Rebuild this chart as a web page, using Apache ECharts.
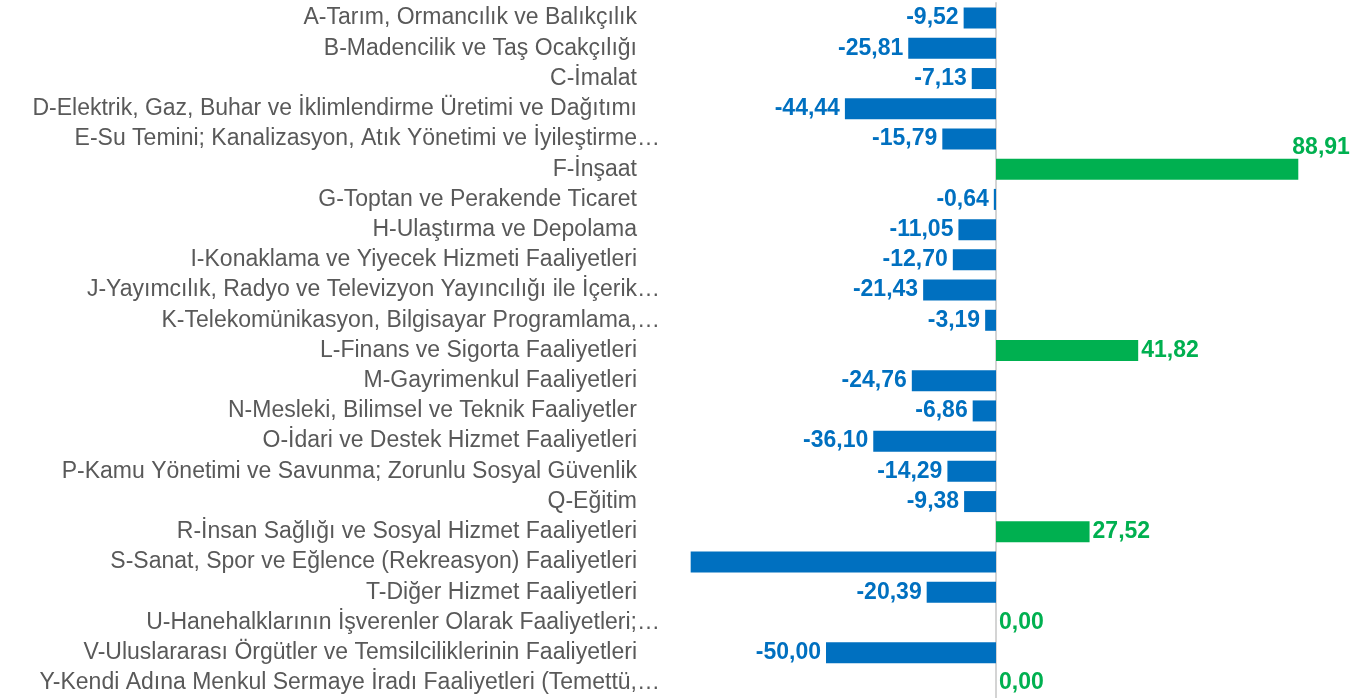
<!DOCTYPE html>
<html>
<head>
<meta charset="utf-8">
<script src="https://cdn.jsdelivr.net/npm/echarts@6/dist/echarts.min.js"></script>
<style>
html,body{margin:0;padding:0;background:#fff;}
#main-chart{width:1371px;height:698px;}
</style>
</head>
<body>
<div id="main-chart"></div>
<script>
// sektörler
var categories = [
	'A-Tarım, Ormancılık ve Balıkçılık',
	'B-Madencilik ve Taş Ocakçılığı',
	'C-İmalat',
	'D-Elektrik, Gaz, Buhar ve İklimlendirme Üretimi ve Dağıtımı',
	'E-Su Temini; Kanalizasyon, Atık Yönetimi ve İyileştirme…',
	'F-İnşaat',
	'G-Toptan ve Perakende Ticaret',
	'H-Ulaştırma ve Depolama',
	'I-Konaklama ve Yiyecek Hizmeti Faaliyetleri',
	'J-Yayımcılık, Radyo ve Televizyon Yayıncılığı ile İçerik…',
	'K-Telekomünikasyon, Bilgisayar Programlama,…',
	'L-Finans ve Sigorta Faaliyetleri',
	'M-Gayrimenkul Faaliyetleri',
	'N-Mesleki, Bilimsel ve Teknik Faaliyetler',
	'O-İdari ve Destek Hizmet Faaliyetleri',
	'P-Kamu Yönetimi ve Savunma; Zorunlu Sosyal Güvenlik',
	'Q-Eğitim',
	'R-İnsan Sağlığı ve Sosyal Hizmet Faaliyetleri',
	'S-Sanat, Spor ve Eğlence (Rekreasyon) Faaliyetleri',
	'T-Diğer Hizmet Faaliyetleri',
	'U-Hanehalklarının İşverenler Olarak Faaliyetleri;…',
	'V-Uluslararası Örgütler ve Temsilciliklerinin Faaliyetleri',
	'Y-Kendi Adına Menkul Sermaye İradı Faaliyetleri (Temettü,…'
];

// değişim (%)
var values = [-9.52, -25.81, -7.13, -44.44, -15.79, 88.91, -0.64, -11.05, -12.70, -21.43,
	-3.19, 41.82, -24.76, -6.86, -36.10, -14.29, -9.38, 27.52, -89.8, -20.39, 0.00, -50.00, 0.00];

// etiketi görünmeyenler (çubuğun altında kalıyor)
var hiddenLabels = ['S-Sanat, Spor ve Eğlence (Rekreasyon) Faaliyetleri'];

var blue = '#0070C0';
var green = '#00B050';
var font = 'Liberation Sans, Arial, sans-serif';

var seriesData = values.map(function (v, i) {
	var pos = v >= 0;
	var item = {
		value: v,
		itemStyle: { color: pos ? green : blue },
		label: {
			show: hiddenLabels.indexOf(categories[i]) < 0,
			position: pos ? 'right' : 'left',
			distance: pos ? 3 : 5,
			color: pos ? green : blue
		}
	};
	// F etiketi üstte
	if (v > 80) {
		item.label.offset = [-9, -22];
	}
	return item;
});

option = {
	backgroundColor: '#fff',
	animation: false,
	grid: {
		left: 690,
		right: 35,
		top: 3,
		bottom: 0,
		containLabel: false
	},
	xAxis: {
		type: 'value',
		min: -90,
		max: 100,
		show: false
	},
	yAxis: {
		type: 'category',
		inverse: true,
		data: categories,
		axisTick: { show: false },
		axisLine: { show: true, onZero: true, lineStyle: { color: '#d4d4d4', width: 2 } },
		axisLabel: {
			margin: 30,
			color: '#595959',
			fontSize: 23,
			fontFamily: font,
			formatter: function (txt) {
				if (txt.charAt(txt.length - 1) === '…') return '{e|' + txt + '}';
				return '{n|' + txt + '}';
			},
			rich: {
				e: { color: '#595959', fontSize: 23, fontFamily: font },
				n: { color: '#595959', fontSize: 23, fontFamily: font, padding: [0, 23, 0, 0] }
			}
		}
	},
	series: [
		{
			type: 'bar',
			barWidth: 21,
			data: seriesData,
			label: {
				fontSize: 23,
				fontWeight: 'bold',
				fontFamily: font,
				formatter: function (p) {
					return p.value.toFixed(2).replace('.', ',');
				}
			}
		}
	]
};

var myChart = echarts.init(document.getElementById('main-chart'));
myChart.setOption(option);
</script>
</body>
</html>
